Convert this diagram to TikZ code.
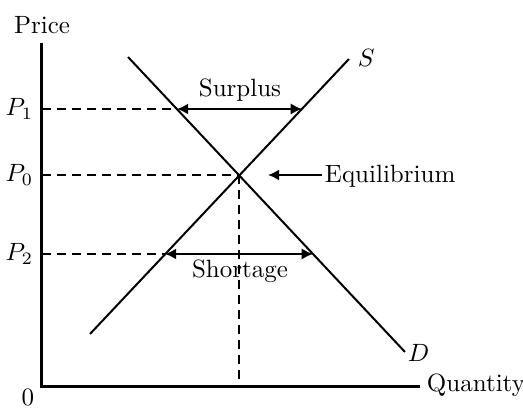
\documentclass[tikz,border=0pt]{standalone}
\usepackage{tikz}
\usetikzlibrary{arrows.meta}
\tikzset{tip/.tip={Latex[length=4.5pt,width=4.5pt]}}

\begin{document}
\begin{tikzpicture}[x=0.4pt,y=-0.4pt,
    every node/.style={font=\normalsize, inner sep=1pt},
    axis/.style={line width=1.2pt},
    curve/.style={line width=0.8pt},
    guide/.style={line width=0.8pt, dash pattern=on 3.6pt off 2.4pt},
    gaparrow/.style={line width=0.8pt, tip-tip}]
  \useasboundingbox (0,0) rectangle (523,410);
  % axes
  \coordinate (O) at (42,387);
  \coordinate (Ytop) at (42,43);
  \coordinate (Xend) at (420,387);
  \draw[axis] (Ytop) -- (O) -- (Xend);
  \node (price) at (42,25) {Price};
  \node[anchor=west] (qty) at (424,385) {Quantity};
  \node (zero) at (28,397) {0};
  % supply and demand
  \coordinate (D1) at (128,57);
  \coordinate (D2) at (405,352);
  \coordinate (S1) at (90,334);
  \coordinate (S2) at (349,59);
  \draw[curve] (D1) -- (D2);
  \draw[curve] (S1) -- (S2);
  \node[anchor=west] (Slab) at (355,58) {$S$};
  \node[anchor=west] (Dlab) at (405,353) {$D$};
  % price levels
  \node[anchor=east] (P1) at (36,109) {$P_1$};
  \node[anchor=east] (P0) at (36,175) {$P_0$};
  \node[anchor=east] (P2) at (36,254) {$P_2$};
  \coordinate (A1) at (42,109);
  \coordinate (A0) at (42,175);
  \coordinate (A2) at (42,254);
  \coordinate (Q0) at (239,387);
  \coordinate (E) at (239,175);
  \coordinate (D1x) at (177,109);
  \coordinate (S1x) at (302,109);
  \coordinate (S2x) at (165,254);
  \coordinate (D2x) at (313,254);
  \draw[guide] (A1) -- (D1x);
  \draw[guide] (A0) -- (E);
  \draw[guide] (A2) -- (S2x);
  \draw[guide] (E) -- (Q0);
  % surplus / shortage
  \draw[gaparrow] (D1x) -- (S1x);
  \draw[gaparrow] (S2x) -- (D2x);
  \node[anchor=base] (surplus) at (240,97) {Surplus};
  \node[anchor=base] (shortage) at (240,278) {Shortage};
  % equilibrium
  \node[anchor=base west] (eqlab) at (322,183) {Equilibrium};
  \coordinate (Etip) at (268,175);
  \draw[line width=0.8pt, -tip] (eqlab.west |- E) -- (Etip);
\end{tikzpicture}
\end{document}
